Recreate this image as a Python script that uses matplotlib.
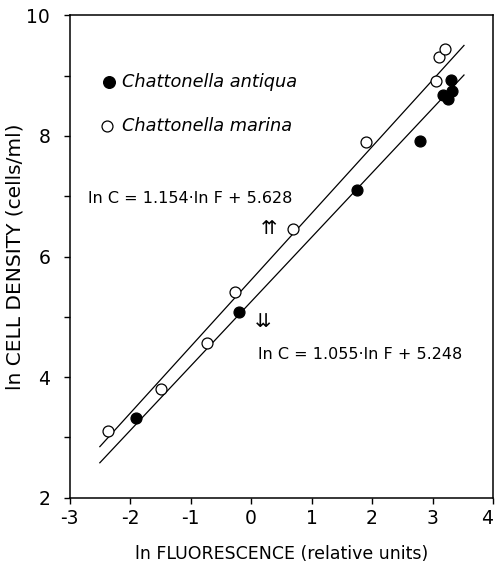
import matplotlib
matplotlib.use("Agg")
import matplotlib.pyplot as plt
import numpy as np

# data
antiqua_x = [-1.91, -0.20, 1.75, 2.79, 3.31, 3.18, 3.32, 3.26]
antiqua_y = [3.33, 5.08, 7.10, 7.92, 8.93, 8.68, 8.75, 8.61]

marina_x = [-2.37, -1.49, -0.73, -0.27, 0.69, 1.90, 3.06, 3.11, 3.21]
marina_y = [3.10, 3.81, 4.57, 5.41, 6.45, 7.90, 8.91, 9.31, 9.44]

# regression lines as drawn (slope, intercept)
marina_fit = (1.105, 5.61)
antiqua_fit = (1.068, 5.25)
fit_range = [-2.5, 3.52]

plt.rcParams['font.family'] = ['DejaVu Sans']
plt.rcParams['axes.unicode_minus'] = False

fig = plt.figure(figsize=(4.97, 5.65), dpi=100)
ax = fig.add_axes([0.140, 0.119, 0.852, 0.854])

xx = np.array(fit_range)
ax.plot(xx, marina_fit[0] * xx + marina_fit[1], color='black', lw=0.9)
ax.plot(xx, antiqua_fit[0] * xx + antiqua_fit[1], color='black', lw=0.9)

ax.scatter(marina_x, marina_y, s=62, facecolors='white', edgecolors='black',
           linewidths=0.9, zorder=3)
ax.scatter(antiqua_x, antiqua_y, s=62, facecolors='black', edgecolors='black',
           linewidths=0.9, zorder=3)

# legend drawn by hand like the original
ax.scatter([-2.35], [8.9], s=70, facecolors='black', edgecolors='black', zorder=3)
ax.text(-2.14, 8.9, 'Chattonella antiqua', fontsize=12.8, style='italic', va='center')
ax.scatter([-2.38], [8.17], s=62, facecolors='white', edgecolors='black',
           linewidths=0.9, zorder=3)
ax.text(-2.14, 8.17, 'Chattonella marina', fontsize=12.8, style='italic', va='center')

ax.text(-2.69, 6.96, 'ln C = 1.154\u00b7ln F + 5.628', fontsize=11.5, va='center')
ax.text(0.3, 6.47, '\u21c8', fontsize=14, ha='center', va='center')
ax.text(0.2, 4.93, '\u21ca', fontsize=14, ha='center', va='center')
ax.text(0.12, 4.37, 'ln C = 1.055\u00b7ln F + 5.248', fontsize=11.5, va='center')

ax.set_xlim(-3, 4)
ax.set_ylim(2, 10)
ax.set_xticks(range(-3, 5))
ax.set_yticks([2, 4, 6, 8, 10])
ax.set_yticks([3, 5, 7, 9], minor=True)
ax.tick_params(axis='both', which='major', direction='out', length=4, width=1,
               labelsize=13.5)
ax.tick_params(axis='y', which='major', pad=10)
ax.tick_params(axis='x', which='major', pad=4)
ax.tick_params(axis='y', which='minor', direction='out', length=4, width=1)
for s in ax.spines.values():
    s.set_linewidth(1.1)

# keep the last x tick label inside the figure
labels = ax.get_xticklabels()
labels[-1].set_horizontalalignment('right')
labels[-1].set_x(4.0)

ax.set_xlabel('ln FLUORESCENCE (relative units)', fontsize=12.5, labelpad=12)
ax.set_ylabel('ln CELL DENSITY (cells/ml)', fontsize=14.5, labelpad=1)

fig.savefig('out.png', dpi=100)
